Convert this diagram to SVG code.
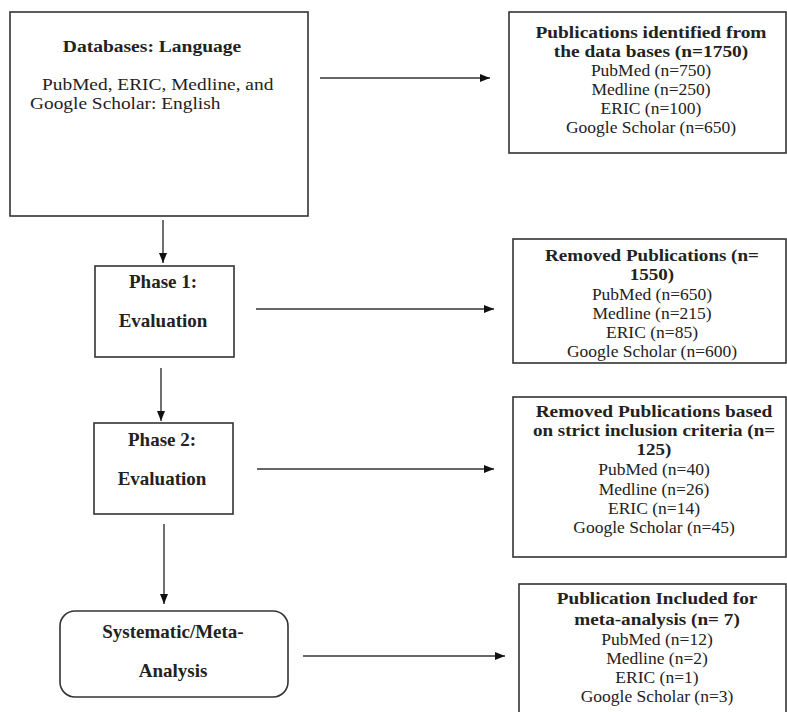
<svg xmlns="http://www.w3.org/2000/svg" width="787" height="712" viewBox="0 0 787 712">
<defs>
<marker id="ah" viewBox="0 0 10 10" refX="10" refY="5" markerWidth="10" markerHeight="10" markerUnits="userSpaceOnUse" orient="auto">
<path d="M0,1 L10,5 L0,9 Z" fill="#111"/>
</marker>
</defs>
<style>
.box{fill:#fff;stroke:#333;stroke-width:1.6}
.ln{stroke:#333;stroke-width:1.4;fill:none;marker-end:url(#ah)}
text{font-family:"Liberation Serif","Times New Roman",serif;fill:#222}
.b{font-weight:bold;font-size:17px}
.p{font-weight:bold;font-size:19px}
.r{font-size:17.5px}
.l{font-size:17px}
.c{text-anchor:middle}
</style>
<rect width="787" height="712" fill="#fff"/>
<g id="connectors">
<line class="ln" x1="320" y1="78" x2="490" y2="78"/>
<line class="ln" x1="163" y1="220" x2="163" y2="263"/>
<line class="ln" x1="256" y1="309" x2="494" y2="309"/>
<line class="ln" x1="161" y1="368" x2="161" y2="421"/>
<line class="ln" x1="257" y1="469" x2="494" y2="469"/>
<line class="ln" x1="164" y1="524" x2="164" y2="604"/>
<line class="ln" x1="303" y1="656" x2="505" y2="656"/>
</g>
<g id="databases">
<rect class="box" x="10" y="12" width="298" height="204"/>
<text class="b c" transform="translate(152,52) scale(1.15,1)">Databases: Language</text>
<text class="l" transform="translate(42,90) scale(1.14,1)">PubMed, ERIC, Medline, and</text>
<text class="l" transform="translate(30,109) scale(1.14,1)">Google Scholar: English</text>
</g>
<g id="identified">
<rect class="box" x="509" y="12" width="277" height="141"/>
<text class="b c" transform="translate(651,38) scale(1.14,1)">Publications identified from</text>
<text class="b c" transform="translate(651,57) scale(1.14,1)">the data bases (n=1750)</text>
<text class="r c" x="651" y="76">PubMed (n=750)</text>
<text class="r c" x="651" y="95">Medline (n=250)</text>
<text class="r c" x="651" y="114">ERIC (n=100)</text>
<text class="r c" x="651" y="133">Google Scholar (n=650)</text>
</g>
<g id="phase1">
<rect class="box" x="95" y="266" width="139" height="91"/>
<text class="p c" x="163" y="288">Phase 1:</text>
<text class="p c" x="163" y="327">Evaluation</text>
</g>
<g id="removed1">
<rect class="box" x="513" y="239" width="273" height="124"/>
<text class="b c" transform="translate(652,261) scale(1.12,1)">Removed Publications (n=</text>
<text class="b c" transform="translate(652,280) scale(1.12,1)">1550)</text>
<text class="r c" x="652" y="300">PubMed (n=650)</text>
<text class="r c" x="652" y="319">Medline (n=215)</text>
<text class="r c" x="652" y="338">ERIC (n=85)</text>
<text class="r c" x="652" y="357">Google Scholar (n=600)</text>
</g>
<g id="phase2">
<rect class="box" x="94" y="423" width="139" height="91"/>
<text class="p c" x="162" y="446">Phase 2:</text>
<text class="p c" x="162" y="485">Evaluation</text>
</g>
<g id="removed2">
<rect class="box" x="513" y="397" width="273" height="160"/>
<text class="b c" transform="translate(654,417) scale(1.14,1)">Removed Publications based</text>
<text class="b c" transform="translate(654,436) scale(1.12,1)">on strict inclusion criteria (n=</text>
<text class="b c" transform="translate(654,455) scale(1.12,1)">125)</text>
<text class="r c" x="654" y="475">PubMed (n=40)</text>
<text class="r c" x="654" y="495">Medline (n=26)</text>
<text class="r c" x="654" y="514">ERIC (n=14)</text>
<text class="r c" x="654" y="533">Google Scholar (n=45)</text>
</g>
<g id="analysis">
<rect class="box" x="60" y="611" width="228" height="86" rx="15" ry="15"/>
<text class="p c" x="173" y="638">Systematic/Meta-</text>
<text class="p c" x="173" y="677">Analysis</text>
</g>
<g id="included">
<rect class="box" x="519" y="584" width="267" height="140"/>
<text class="b c" transform="translate(657,604) scale(1.13,1)">Publication Included for</text>
<text class="b c" transform="translate(657,625) scale(1.13,1)">meta-analysis (n= 7)</text>
<text class="r c" x="657" y="645">PubMed (n=12)</text>
<text class="r c" x="657" y="664">Medline (n=2)</text>
<text class="r c" x="657" y="683">ERIC (n=1)</text>
<text class="r c" x="657" y="702">Google Scholar (n=3)</text>
</g>
</svg>
